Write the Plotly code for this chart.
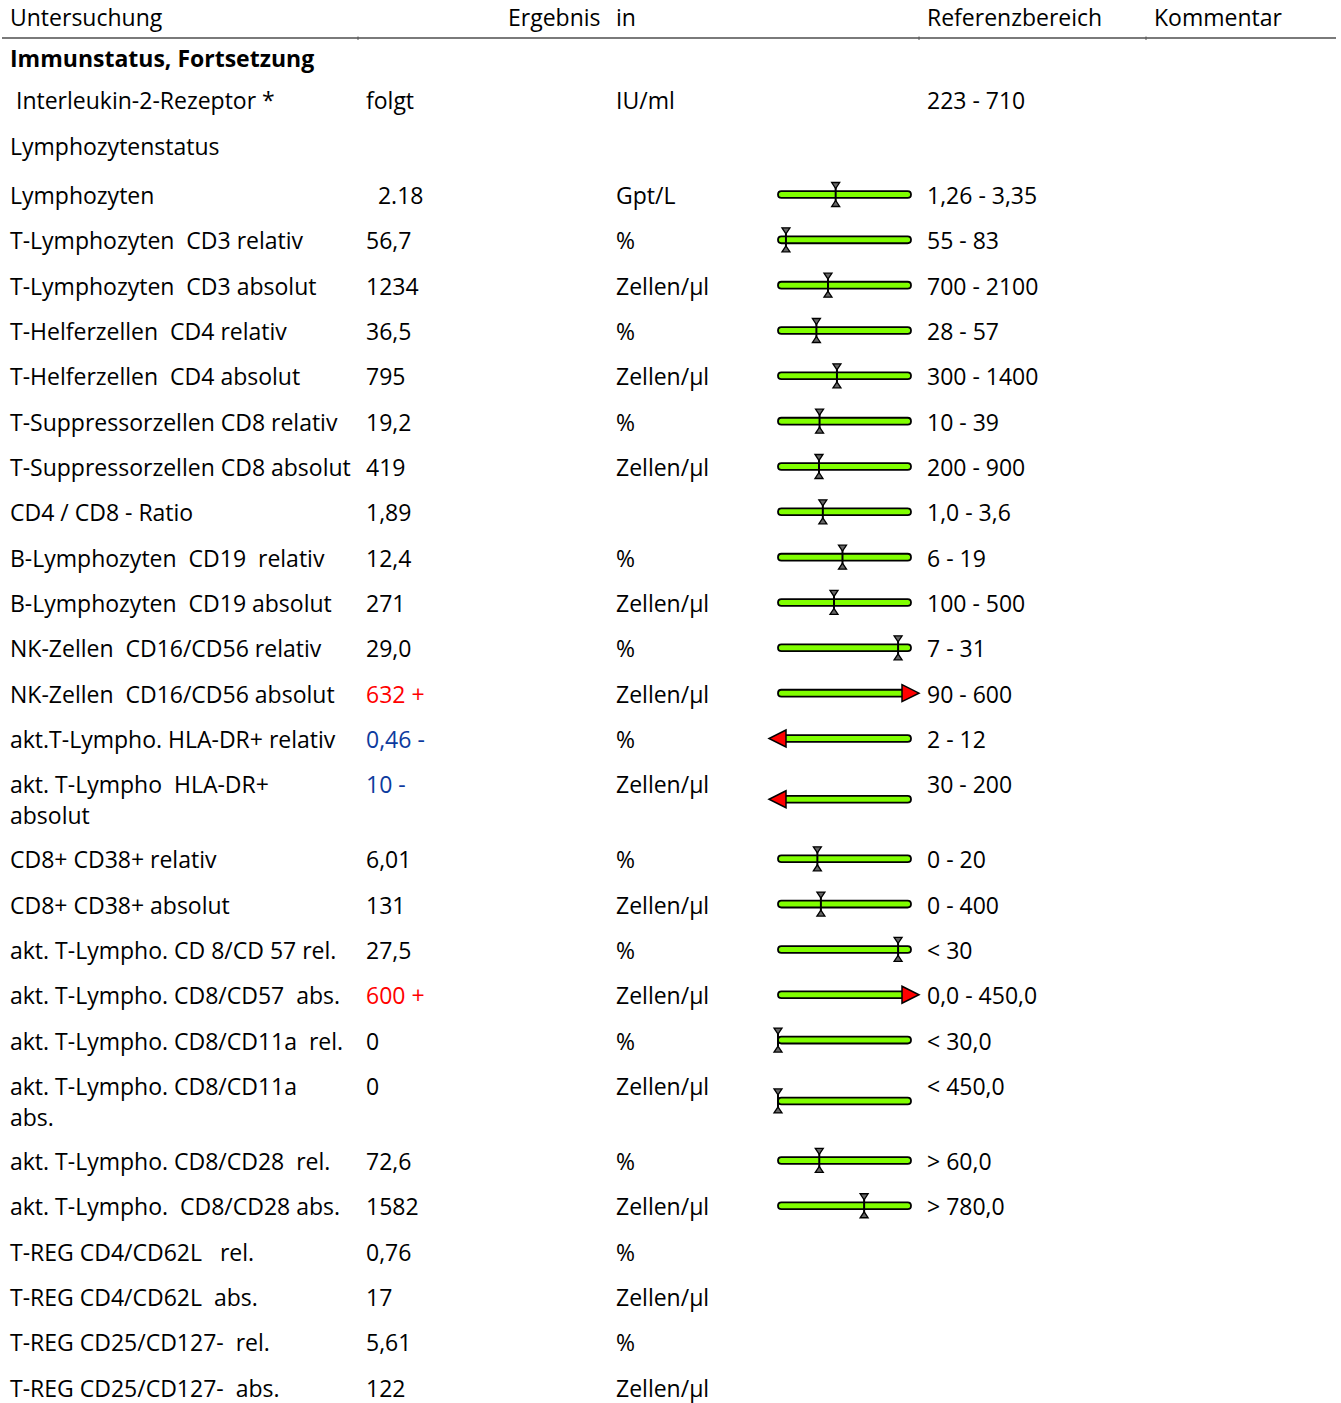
import plotly.graph_objects as go

W, H = 1341, 1403
FONT = "Open Sans"
FS = 23
NB = "\u00a0"

# ---------------- data ----------------
headers = ["Untersuchung", "Ergebnis", "in", "Referenzbereich", "Kommentar"]

section_title = "Immunstatus, Fortsetzung"
pre_rows = [
    (" Interleukin-2-Rezeptor *", "folgt", "IU/ml", "223 - 710"),
    ("Lymphozytenstatus", "", "", ""),
]

names = [
    "Lymphozyten",
    "T-Lymphozyten  CD3 relativ",
    "T-Lymphozyten  CD3 absolut",
    "T-Helferzellen  CD4 relativ",
    "T-Helferzellen  CD4 absolut",
    "T-Suppressorzellen CD8 relativ",
    "T-Suppressorzellen CD8 absolut",
    "CD4 / CD8 - Ratio",
    "B-Lymphozyten  CD19  relativ",
    "B-Lymphozyten  CD19 absolut",
    "NK-Zellen  CD16/CD56 relativ",
    "NK-Zellen  CD16/CD56 absolut",
    "akt.T-Lympho. HLA-DR+ relativ",
    "akt. T-Lympho  HLA-DR+\nabsolut",
    "CD8+ CD38+ relativ",
    "CD8+ CD38+ absolut",
    "akt. T-Lympho. CD 8/CD 57 rel.",
    "akt. T-Lympho. CD8/CD57  abs.",
    "akt. T-Lympho. CD8/CD11a  rel.",
    "akt. T-Lympho. CD8/CD11a\nabs.",
    "akt. T-Lympho. CD8/CD28  rel.",
    "akt. T-Lympho.  CD8/CD28 abs.",
    "T-REG CD4/CD62L   rel.",
    "T-REG CD4/CD62L  abs.",
    "T-REG CD25/CD127-  rel.",
    "T-REG CD25/CD127-  abs.",
]
results = ["  2.18", "56,7", "1234", "36,5", "795", "19,2", "419", "1,89", "12,4", "271",
           "29,0", "632 +", "0,46 -", "10 -", "6,01", "131", "27,5", "600 +", "0", "0",
           "72,6", "1582", "0,76", "17", "5,61", "122"]
units = ["Gpt/L", "%", "Zellen/µl", "%", "Zellen/µl", "%", "Zellen/µl", "", "%", "Zellen/µl",
         "%", "Zellen/µl", "%", "Zellen/µl", "%", "Zellen/µl", "%", "Zellen/µl", "%", "Zellen/µl",
         "%", "Zellen/µl", "%", "Zellen/µl", "%", "Zellen/µl"]
ref_text = ["1,26 - 3,35", "55 - 83", "700 - 2100", "28 - 57", "300 - 1400", "10 - 39",
            "200 - 900", "1,0 - 3,6", "6 - 19", "100 - 500", "7 - 31", "90 - 600", "2 - 12",
            "30 - 200", "0 - 20", "0 - 400", "< 30", "0,0 - 450,0", "< 30,0", "< 450,0",
            "> 60,0", "> 780,0", "", "", "", ""]
values = [2.18, 56.7, 1234, 36.5, 795, 19.2, 419, 1.89, 12.4, 271, 29.0, 632, 0.46, 10,
          6.01, 131, 27.5, 600, 0, 0, 72.6, 1582, None, None, None, None]
ref_low = [1.26, 55, 700, 28, 300, 10, 200, 1.0, 6, 100, 7, 90, 2, 30, 0, 0, 0, 0.0, 0, 0,
           60, 780, None, None, None, None]
ref_high = [3.35, 83, 2100, 57, 1400, 39, 900, 3.6, 19, 500, 31, 600, 12, 200, 20, 400, 30,
            450.0, 30.0, 450.0, 100, 2000, None, None, None, None]

# ---------------- layout constants ----------------
TX = -1                              # compensate glyph bearing
TY = -1
COLX = [10, 366, 616, 927, 1154]
HEADER_X = [10, 508, 616, 927, 1154]
HEADER_Y = 18
SECTION_Y = 59
PRE_Y = [101, 147]
FIRST_Y = 196
STEP = 45.33
LINE_H = 31
BAR_L, BAR_R = 778, 911        # outer extent of the bar
SC_L, SC_R = 778, 909          # scale used for marker placement
GREEN = "#80FF00"
RED = "#FF0000"
BLUE = "#0D3B9E"

annotations = []
shapes = []


def txt(x, y, s, color="black", bold=False):
    s = s.replace(" ", NB)
    if bold:
        s = "<b>" + s + "</b>"
    annotations.append(dict(x=x + TX, y=y + TY, xref="x", yref="y", text=s, showarrow=False,
                            xanchor="left", yanchor="middle", borderpad=0,
                            font=dict(family=FONT, size=FS, color=color)))


# header
for h, x in zip(headers, HEADER_X):
    txt(x, HEADER_Y, h)
shapes.append(dict(type="line", xref="x", yref="y", x0=2, x1=1336, y0=38, y1=38,
                   line=dict(color="#7a7a7a", width=2)))
for tx in [358, 919, 1146]:
    shapes.append(dict(type="line", xref="x", yref="y", x0=tx, x1=tx, y0=36.5, y1=40,
                       line=dict(color="#555555", width=1)))

txt(COLX[0], SECTION_Y, section_title, bold=True)
for (n, r, u, rt), y in zip(pre_rows, PRE_Y):
    txt(COLX[0], y, n)
    txt(COLX[1], y, r)
    txt(COLX[2], y, u)
    txt(COLX[3], y, rt)


def bar_path(xl, xr, yc, r, round_l=True, round_r=True):
    p = []
    if round_l:
        p.append(f"M{xl + r},{yc - r}")
    else:
        p.append(f"M{xl},{yc - r}")
    if round_r:
        p.append(f"L{xr - r},{yc - r} Q{xr},{yc - r} {xr},{yc} Q{xr},{yc + r} {xr - r},{yc + r}")
    else:
        p.append(f"L{xr},{yc - r} L{xr},{yc + r}")
    if round_l:
        p.append(f"L{xl + r},{yc + r} Q{xl},{yc + r} {xl},{yc} Q{xl},{yc - r} {xl + r},{yc - r} Z")
    else:
        p.append(f"L{xl},{yc + r} Z")
    return " ".join(p)


y = FIRST_Y
for i, name in enumerate(names):
    lines = name.split("\n")
    for k, ln in enumerate(lines):
        txt(COLX[0], y + k * LINE_H, ln)
    res = results[i]
    color = "black"
    if res.endswith("+"):
        color = RED
    elif res.endswith("-"):
        color = BLUE
    txt(COLX[1], y, res, color=color)
    txt(COLX[2], y, units[i])
    txt(COLX[3], y, ref_text[i])

    v, lo, hi = values[i], ref_low[i], ref_high[i]
    if v is not None and lo is not None:
        yc = y - 1.5 + (len(lines) - 1) * LINE_H / 2
        r = 3.4
        if v > hi:
            shapes.append(dict(type="path", xref="x", yref="y",
                               path=bar_path(BAR_L, 905, yc, r, True, False),
                               fillcolor=GREEN, line=dict(color="black", width=1.8)))
            shapes.append(dict(type="path", xref="x", yref="y",
                               path=f"M902,{yc - 8.5} L919,{yc} L902,{yc + 8.5} Z",
                               fillcolor=RED, line=dict(color="black", width=1.5)))
        elif v < lo:
            shapes.append(dict(type="path", xref="x", yref="y",
                               path=bar_path(783, BAR_R, yc, r, False, True),
                               fillcolor=GREEN, line=dict(color="black", width=1.8)))
            shapes.append(dict(type="path", xref="x", yref="y",
                               path=f"M786,{yc - 8.5} L769,{yc} L786,{yc + 8.5} Z",
                               fillcolor=RED, line=dict(color="black", width=1.5)))
        else:
            shapes.append(dict(type="path", xref="x", yref="y",
                               path=bar_path(BAR_L, BAR_R, yc, r),
                               fillcolor=GREEN, line=dict(color="black", width=1.8)))
            xm = SC_L + (v - lo) / (hi - lo) * (SC_R - SC_L)
            shapes.append(dict(type="line", xref="x", yref="y", x0=xm, x1=xm,
                               y0=yc - 11, y1=yc + 11, line=dict(color="black", width=2)))
            shapes.append(dict(type="path", xref="x", yref="y",
                               path=f"M{xm - 4},{yc - 12} L{xm + 4},{yc - 12} L{xm},{yc - 6} Z",
                               fillcolor="#666666", line=dict(color="black", width=1.3)))
            shapes.append(dict(type="path", xref="x", yref="y",
                               path=f"M{xm - 4},{yc + 12} L{xm + 4},{yc + 12} L{xm},{yc + 6} Z",
                               fillcolor="#666666", line=dict(color="black", width=1.3)))
    y += STEP + (len(lines) - 1) * (75 - STEP)

fig = go.Figure()
fig.add_trace(go.Scatter(x=[0, W], y=[0, H], mode="markers",
                         marker=dict(opacity=0), hoverinfo="skip", showlegend=False))
fig.update_layout(
    width=W, height=H, margin=dict(l=0, r=0, t=0, b=0),
    paper_bgcolor="white", plot_bgcolor="white",
    xaxis=dict(range=[0, W], visible=False, fixedrange=True),
    yaxis=dict(range=[H, 0], visible=False, fixedrange=True),
    annotations=annotations, shapes=shapes, showlegend=False,
)
fig.write_html("out.html", config={"displayModeBar": False},
               post_script="document.body.style.margin='0';document.body.style.overflow='hidden';")
